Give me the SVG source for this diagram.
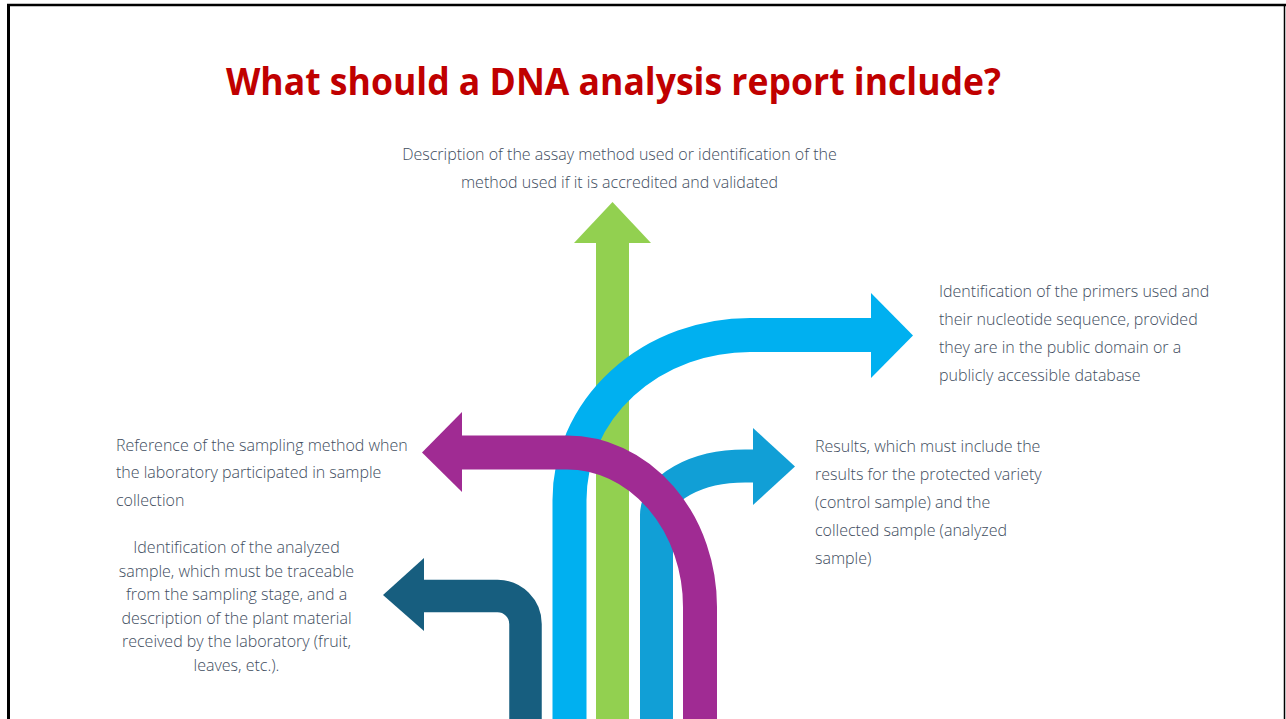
<svg xmlns="http://www.w3.org/2000/svg" width="1286" height="719" viewBox="0 0 1286 719">
<style>
.t{font-family:"Open Sans","Liberation Sans",sans-serif;font-size:16px;font-weight:300;fill:#3E4D60}
.c{text-anchor:middle}
.title{font-family:"Open Sans","Liberation Sans",sans-serif;font-size:37px;font-weight:700;fill:#C00000;text-anchor:middle}
.sh{fill:none;stroke-linecap:butt}
</style>
<rect x="0" y="0" width="1286" height="719" fill="#ffffff"/>
<g id="frame" stroke="#000" fill="none">
<line x1="7" y1="5" x2="1286" y2="5" stroke-width="2.5"/>
<line x1="8.5" y1="4" x2="8.5" y2="719" stroke-width="3"/>
<line x1="1284.5" y1="5" x2="1284.5" y2="719" stroke-width="1.5"/>
</g>
<text id="title" class="title" x="613.5" y="95" textLength="775" lengthAdjust="spacingAndGlyphs">What should a DNA analysis report include?</text>
<g id="connectors">
<g id="arrow-green">
<rect x="596" y="242" width="33" height="477" fill="#92D050"/>
<polygon points="574,243 612.5,202 651,243" fill="#92D050"/>
</g>
<g id="arrow-lightblue">
<path class="sh" d="M569.5 719 V500 A180.5 165 0 0 1 750 335 H872" stroke="#00B0F0" stroke-width="34"/>
<polygon points="871,293 913,335.5 871,378" fill="#00B0F0"/>
</g>
<g id="arrow-midblue">
<path class="sh" d="M656.5 719 V515 A88.5 49 0 0 1 745 466 H754" stroke="#119FD6" stroke-width="33"/>
<polygon points="753,428 795,466.5 753,505" fill="#119FD6"/>
</g>
<g id="arrow-purple">
<path class="sh" d="M700 719 V607 A133 154.5 0 0 0 567 452.5 H461" stroke="#A02B93" stroke-width="34"/>
<polygon points="462,412 422,452.5 462,492" fill="#A02B93"/>
</g>
<g id="arrow-teal">
<path class="sh" d="M525.5 719 V624 A28 28 0 0 0 497.5 596 H423" stroke="#175E7F" stroke-width="32.5"/>
<polygon points="424,558 383,595 424,631" fill="#175E7F"/>
</g>
</g>
<g id="node-method">
<text class="t c" x="619.5" y="160">Description of the assay method used or identification of the</text>
<text class="t c" x="619.5" y="187.5">method used if it is accredited and validated</text>
</g>
<g id="node-primers">
<text class="t" x="939" y="297">Identification of the primers used and</text>
<text class="t" x="939" y="325">their nucleotide sequence, provided</text>
<text class="t" x="939" y="353">they are in the public domain or a</text>
<text class="t" x="939" y="381">publicly accessible database</text>
</g>
<g id="node-sampling">
<text class="t" x="116" y="451">Reference of the sampling method when</text>
<text class="t" x="116" y="478">the laboratory participated in sample</text>
<text class="t" x="116" y="505.5">collection</text>
</g>
<g id="node-results">
<text class="t" x="815" y="452">Results, which must include the</text>
<text class="t" x="815" y="480">results for the protected variety</text>
<text class="t" x="815" y="508">(control sample) and the</text>
<text class="t" x="815" y="536">collected sample (analyzed</text>
<text class="t" x="815" y="564">sample)</text>
</g>
<g id="node-sample">
<text class="t c" x="236.5" y="553">Identification of the analyzed</text>
<text class="t c" x="236.5" y="576.6">sample, which must be traceable</text>
<text class="t c" x="236.5" y="600.2">from the sampling stage, and a</text>
<text class="t c" x="236.5" y="623.8">description of the plant material</text>
<text class="t c" x="236.5" y="647.4">received by the laboratory (fruit,</text>
<text class="t c" x="236.5" y="671">leaves, etc.).</text>
</g>
</svg>
